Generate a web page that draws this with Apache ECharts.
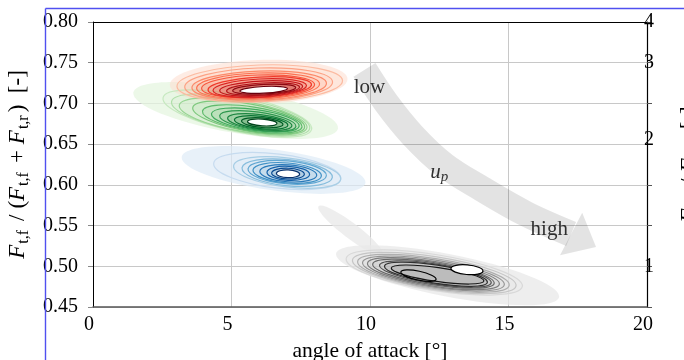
<!DOCTYPE html>
<html>
<head>
<meta charset="utf-8">
<script src="https://cdn.jsdelivr.net/npm/echarts@6/dist/echarts.min.js"></script>
<style>
  html, body { margin: 0; padding: 0; background: #fff; }
  #chart { width: 684px; height: 360px; }
</style>
</head>
<body>
<div id="chart"></div>
<script>
// contour levels, outer -> inner: [angle of attack, force ratio, half width (deg), half height (ratio), tilt deg]
const redContours = [
  [6.02, 0.7245, 2.99, 0.0227, 2],
  [5.98, 0.7232, 2.67, 0.0203, 2],
  [6.00, 0.7220, 2.43, 0.0178, 2],
  [5.96, 0.7214, 2.22, 0.0160, 2],
  [5.96, 0.7208, 2.04, 0.0141, 2],
  [6.02, 0.7199, 1.87, 0.0125, 3],
  [6.02, 0.7189, 1.69, 0.0111, 3],
  [6.07, 0.7183, 1.50, 0.0092, 3],
  [6.14, 0.7177, 1.32, 0.0074, 3],
  [6.18, 0.7175, 1.14, 0.0059, 3],
  [6.16, 0.7167, 0.86, 0.0041, 3]
];
const greenContours = [
  [5.21, 0.6876, 2.74, 0.0221, -12],
  [5.33, 0.6858, 2.54, 0.0203, -11],
  [5.42, 0.6840, 2.34, 0.0184, -10],
  [5.62, 0.6827, 2.05, 0.0166, -10],
  [5.75, 0.6809, 1.82, 0.0147, -9],
  [5.86, 0.6797, 1.60, 0.0129, -8],
  [5.95, 0.6784, 1.39, 0.0111, -8],
  [6.02, 0.6772, 1.17, 0.0092, -7],
  [6.07, 0.6766, 0.97, 0.0076, -6],
  [6.11, 0.6763, 0.75, 0.0059, -5],
  [6.11, 0.6766, 0.53, 0.0041, -4]
];
const blueContours = [
  [6.65, 0.6170, 2.31, 0.0209, -7],
  [7.01, 0.6152, 1.95, 0.0178, -7],
  [7.01, 0.6150, 1.64, 0.0160, -6],
  [7.01, 0.6154, 1.42, 0.0141, -5],
  [7.01, 0.6146, 1.24, 0.0123, -5],
  [7.05, 0.6142, 1.03, 0.0104, -4],
  [7.05, 0.6142, 0.77, 0.0086, -3],
  [7.04, 0.6138, 0.59, 0.0066, -2],
  [7.04, 0.6136, 0.42, 0.0047, -2]
];
const blackContours = [
  [12.32, 0.4924, 3.22, 0.0220, -9],
  [12.32, 0.4918, 2.99, 0.0200, -9],
  [12.29, 0.4914, 2.77, 0.0183, -9],
  [12.29, 0.4911, 2.59, 0.0167, -9],
  [12.29, 0.4909, 2.41, 0.0151, -9],
  [12.29, 0.4909, 2.22, 0.0136, -9],
  [12.36, 0.4905, 2.04, 0.0123, -9],
  [12.38, 0.4903, 1.88, 0.0112, -9],
  [12.44, 0.4899, 1.69, 0.0086, -8]
];
const blackCores = [
  [11.75, 0.4885, 0.65, 0.0055, -12],
  [13.50, 0.4958, 0.58, 0.0059, -5]
];

// light filled area below the lowest contour level
const redHaze = [[5.98, 0.7263, 3.21, 0.0270, 2]];
const greenHaze = [[5.15, 0.6913, 3.75, 0.0275, -10]];
const blueHaze = [[6.52, 0.6183, 3.35, 0.0250, -8]];
const blackHaze = [[12.80, 0.4890, 4.10, 0.0260, -11], [9.30, 0.5440, 1.45, 0.0095, -37]];

// u_p arrow centre line, last point is the tip
const arrowPath = [
  [9.80, 0.7411], [10.59, 0.7005], [11.53, 0.6612], [12.68, 0.6244],
  [14.05, 0.5949], [15.64, 0.5642], [17.26, 0.5397], [18.16, 0.5237]
];
const noteText = ['low', '{i|u}{s|p}', 'high'];
const noteX = [9.98, 12.50, 16.47];
const noteY = [0.7196, 0.6146, 0.5458];

// right axis: F_t,f / F_t,r
const rightLabels = ['1', '2', '3', '4'];
const rightLabelAt = [0.5, 0.656, 0.75, 0.8];

const serif = 'Liberation Serif';
const ramps = {
  red: ['#fcbba1', '#fc9272', '#fb6a4a', '#ef3b2c', '#cb181d', '#a50f15', '#67000d'],
  green: ['#c7e9c0', '#a1d99b', '#74c476', '#41ab5d', '#238b45', '#006d2c', '#00441b'],
  blue: ['#c6dbef', '#9ecae1', '#6baed6', '#4292c6', '#2171b5', '#08519c', '#08306b'],
  grey: ['#d9d9d9', '#bdbdbd', '#969696', '#737373', '#525252', '#252525', '#000000']
};

function rgbOf(h) { return [1, 3, 5].map(i => parseInt(h.slice(i, i + 2), 16)); }
function rampAt(stops, t) {
  const p = t * (stops.length - 1);
  const i = Math.min(Math.floor(p), stops.length - 2);
  const f = p - i;
  const a = rgbOf(stops[i]), b = rgbOf(stops[i + 1]);
  return a.map((v, k) => Math.round(v + (b[k] - v) * f));
}

function ellipse(api, fill, stroke, lw) {
  const c = api.coord([api.value(0), api.value(1)]);
  const s = api.size([api.value(2), api.value(3)]);
  return {
    type: 'ellipse',
    x: c[0], y: c[1],
    rotation: api.value(4) * Math.PI / 180,
    shape: { cx: 0, cy: 0, rx: s[0], ry: s[1] },
    style: { fill: fill, stroke: stroke, lineWidth: lw }
  };
}

function hazeSeries(rows, color, z) {
  return {
    type: 'custom', z: z, clip: true, silent: true,
    data: rows,
    renderItem: (params, api) => ellipse(api, color, null, 0)
  };
}

function contourSeries(rows, stops, fillAlpha, z, t0 = 0, t1 = 1) {
  return {
    type: 'custom', z: z, clip: true, silent: true,
    data: rows,
    renderItem: (params, api) => {
      const n = rows.length;
      const t = n > 1 ? t0 + (t1 - t0) * params.dataIndex / (n - 1) : t1;
      const c = rampAt(stops, t);
      const last = params.dataIndex === n - 1 && t1 === 1;
      const fill = last ? '#ffffff' : `rgba(${c},${fillAlpha})`;
      return ellipse(api, fill, `rgb(${c})`, 1.2);
    }
  };
}

const chart = echarts.init(document.getElementById('chart'), null, { renderer: 'canvas' });

const titleRich = {
  i: { fontFamily: serif, fontSize: 23, lineHeight: 28, fontStyle: 'italic', padding: [0, 1, 0, 0] },
  s: { fontFamily: serif, fontSize: 16, lineHeight: 16, verticalAlign: 'bottom', padding: [0, 3, 0, 0] },
  n: { fontFamily: serif, fontSize: 23, lineHeight: 28 },
  p: { fontFamily: serif, fontSize: 23, lineHeight: 28, padding: [0, 6] }
};

const option = {
  animation: false,
  backgroundColor: '#ffffff',
  grid: { left: 93, right: 37, top: 22, bottom: 53, outerBoundsMode: 'none' },
  xAxis: [
    {
      type: 'value', min: 0, max: 20, interval: 5, position: 'bottom',
      axisLine: { onZero: false, lineStyle: { color: '#555', width: 1.5 } },
      axisTick: { show: false },
      axisLabel: { color: '#000', fontFamily: serif, fontSize: 20, margin: 8, padding: [0, 8, 0, 0] },
      splitLine: { show: true, lineStyle: { color: '#c8c8c8', width: 1 } },
      name: 'angle of attack [°]',
      nameLocation: 'middle',
      nameGap: 28,
      nameTextStyle: { color: '#000', fontFamily: serif, fontSize: 21.5 }
    },
    {
      type: 'value', min: 0, max: 20, position: 'top',
      axisLine: { show: true, onZero: false, lineStyle: { color: '#000', width: 1 } },
      axisTick: { show: false }, axisLabel: { show: false }, splitLine: { show: false }
    }
  ],
  yAxis: [
    {
      type: 'value', min: 0.45, max: 0.8, interval: 0.05, position: 'left',
      axisLine: { show: true, onZero: false, lineStyle: { color: '#000', width: 1 } },
      axisTick: { show: true, length: 5, lineStyle: { color: '#888' } },
      axisLabel: { color: '#000', fontFamily: serif, fontSize: 20, margin: 15, formatter: v => v.toFixed(2) },
      splitLine: { show: true, lineStyle: { color: '#c8c8c8', width: 1 } },
      name: '{i|F}{s|t,f}{p|/}{n|(}{i|F}{s|t,f}{p|+}{i|F}{s|t,r}{n|)  [-]}',
      nameLocation: 'middle', nameRotate: 90, nameGap: 58,
      nameTextStyle: { color: '#000', rich: titleRich }
    },
    {
      type: 'value', min: 0.45, max: 0.8, interval: 0.05, position: 'right',
      axisLine: { show: true, onZero: false, lineStyle: { color: '#000', width: 1.2 } },
      axisTick: { show: true, length: 5, lineStyle: { color: '#555' } },
      axisLabel: {
        color: '#000', fontFamily: serif, fontSize: 20, margin: -3,
        customValues: rightLabelAt,
        formatter: v => rightLabels[rightLabelAt.findIndex(p => Math.abs(p - v) < 1e-6)] || ''
      },
      splitLine: { show: false },
      name: '{i|F}{s|t,f}{p|/}{i|F}{s|t,r}{n|  [-]}',
      nameLocation: 'middle', nameRotate: 90, nameGap: 29,
      nameTextStyle: { color: '#000', rich: titleRich }
    }
  ],
  graphic: [
    { type: 'line', z: 100, shape: { x1: 45.5, y1: 8.5, x2: 45.5, y2: 360 }, style: { stroke: '#5050f0', lineWidth: 1.4 } },
    { type: 'line', z: 100, shape: { x1: 45.5, y1: 8.5, x2: 684, y2: 8.5 }, style: { stroke: '#5050f0', lineWidth: 1.4 } }
  ],
  series: [
    hazeSeries(greenHaze, 'rgba(229,245,224,0.75)', 1),
    hazeSeries(redHaze, 'rgba(254,224,210,0.6)', 1),
    hazeSeries(blueHaze, 'rgba(222,235,247,0.7)', 1),
    hazeSeries(blackHaze, 'rgba(232,232,232,0.75)', 1),
    contourSeries(greenContours, ramps.green, 0.09, 3),
    contourSeries(redContours, ramps.red, 0.1, 3),
    contourSeries(blueContours, ramps.blue, 0.05, 3),
    contourSeries(blackContours, ramps.grey, 0.05, 3, 0, 0.9),
    contourSeries(blackCores, ramps.grey, 0, 3, 1, 1),
    {
      type: 'custom', z: 4, silent: true,
      data: [[0]],
      renderItem: (params, api) => {
        const pts = arrowPath.map(p => api.coord(p));
        const tip = pts[pts.length - 1];
        const base = pts[pts.length - 2];
        const dx = tip[0] - base[0], dy = tip[1] - base[1];
        const len = Math.hypot(dx, dy);
        const nx = -dy / len, ny = dx / len;
        const hw = 24;
        const fill = 'rgba(0,0,0,0.11)';
        return {
          type: 'group',
          children: [
            {
              type: 'polyline',
              shape: { points: pts.slice(0, -1), smooth: 0.35 },
              style: { stroke: fill, lineWidth: 26, fill: null, lineCap: 'butt' }
            },
            {
              type: 'polygon',
              shape: { points: [[base[0] + nx * hw, base[1] + ny * hw], tip, [base[0] - nx * hw, base[1] - ny * hw]] },
              style: { fill: fill }
            }
          ]
        };
      }
    },
    {
      type: 'scatter', z: 10, silent: true, symbolSize: 0,
      data: noteText.map((t, i) => ({ name: t, value: [noteX[i], noteY[i]] })),
      label: {
        show: true, position: 'inside', formatter: p => p.name,
        color: '#000', fontFamily: serif, fontSize: 21,
        rich: {
          i: { fontFamily: serif, fontSize: 21, fontStyle: 'italic', lineHeight: 24, color: '#000' },
          s: { fontFamily: serif, fontSize: 15, fontStyle: 'italic', lineHeight: 14, verticalAlign: 'bottom', color: '#000' }
        }
      }
    }
  ]
};

chart.setOption(option);
</script>
</body>
</html>
